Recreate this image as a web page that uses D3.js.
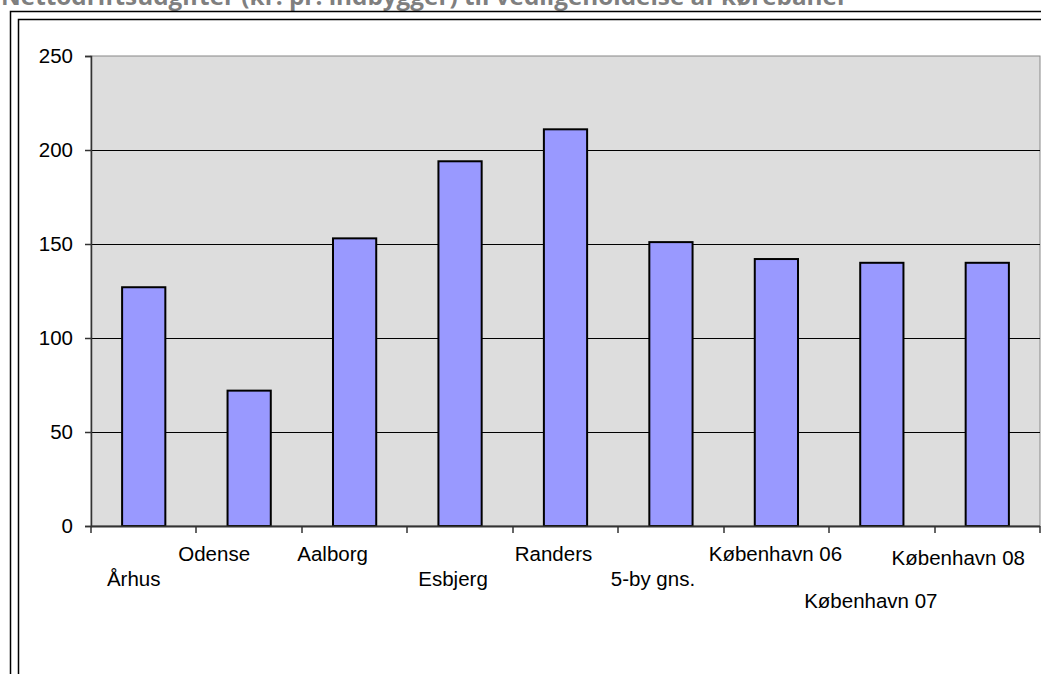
<!DOCTYPE html>
<html><head><meta charset="utf-8">
<script src="https://cdn.jsdelivr.net/npm/d3@7"></script>
<style>
html,body{margin:0;padding:0;background:#fff;overflow:hidden}
svg{display:block}
</style></head>
<body>
<svg id="c" width="1041" height="674"></svg>
<script>
const title = "Nettodriftsudgifter (kr. pr. indbygger) til vedligeholdelse af kørebaner";
const categories = ["Århus","Odense","Aalborg","Esbjerg","Randers","5-by gns.","København 06","København 07","København 08"];
const values = [127, 72, 153, 194, 211, 151, 142, 140, 140];
const yTicks = [0, 50, 100, 150, 200, 250];

// layout of staggered category labels (style, not data)
const labelDx = [-10, -35, -22, -7, -12, -18, -1, -11, -29];
const labelDy = [52, 27, 27, 52, 27, 52, 27, 74, 31];

const svg = d3.select("#c");
const m = {left: 91, right: 1040, top: 56, bottom: 526};

// title (clipped at the top edge, as in the reference)
svg.append("text").attr("x", 1).attr("y", 5)
  .attr("font-family", "Open Sans").attr("font-weight", "bold")
  .attr("font-size", 23).attr("fill", "#7f7f7f")
  .attr("textLength", 847).attr("lengthAdjust", "spacingAndGlyphs")
  .text(title);

// outer double frame
svg.append("rect").attr("x", 10.5).attr("y", 11.5).attr("width", 1100).attr("height", 800)
  .attr("fill", "none").attr("stroke", "#000").attr("stroke-width", 1.5);
svg.append("rect").attr("x", 18.5).attr("y", 19.5).attr("width", 1100).attr("height", 800)
  .attr("fill", "none").attr("stroke", "#000").attr("stroke-width", 1.5);

const x = d3.scaleBand().domain(categories).range([m.left, m.right]).padding(0);
const y = d3.scaleLinear().domain([0, 250]).range([m.bottom, m.top]);

// plot background
svg.append("rect").attr("x", m.left).attr("y", m.top)
  .attr("width", m.right - m.left).attr("height", m.bottom - m.top)
  .attr("fill", "#dddddd").attr("stroke", "#888").attr("stroke-width", 1);

// gridlines
svg.append("g").selectAll("line").data(yTicks.filter(d => d > 0 && d < 250)).join("line")
  .attr("x1", m.left).attr("x2", m.right)
  .attr("y1", d => Math.round(y(d)) + 0.5).attr("y2", d => Math.round(y(d)) + 0.5)
  .attr("stroke", "#000").attr("stroke-width", 1);

// bars
const bw = x.bandwidth();
svg.append("g").selectAll("rect").data(categories).join("rect")
  .attr("x", (d) => x(d) + bw * 0.295)
  .attr("width", bw * 0.41)
  .attr("y", (d, i) => y(values[i]))
  .attr("height", (d, i) => y(0) - y(values[i]))
  .attr("fill", "#9999ff").attr("stroke", "#000").attr("stroke-width", 2);

// y axis
const yAxis = d3.axisLeft(y).tickValues(yTicks).tickSize(6).tickPadding(12);
const gy = svg.append("g").attr("transform", `translate(${m.left},0)`).call(yAxis);
gy.select(".domain").attr("stroke", "#333").attr("stroke-width", 1.5);
gy.selectAll(".tick line").attr("stroke", "#333").attr("stroke-width", 1.5);
gy.selectAll("text").attr("font-family", "Liberation Sans, Arial, sans-serif")
  .attr("font-size", 20.5).attr("fill", "#000");

// x axis line and band-boundary ticks
const bounds = categories.map(c => x(c)).concat([m.right]);
svg.append("line").attr("x1", m.left).attr("x2", m.right)
  .attr("y1", m.bottom + 0.5).attr("y2", m.bottom + 0.5)
  .attr("stroke", "#333").attr("stroke-width", 2);
svg.append("g").selectAll("line").data(bounds).join("line")
  .attr("x1", d => Math.round(d)).attr("x2", d => Math.round(d))
  .attr("y1", m.bottom).attr("y2", m.bottom + 7)
  .attr("stroke", "#333").attr("stroke-width", 1.5);

// category labels
svg.append("g").selectAll("text").data(categories).join("text")
  .attr("x", (d, i) => x(d) + bw / 2 + labelDx[i])
  .attr("y", (d, i) => m.bottom + labelDy[i])
  .attr("text-anchor", "middle").attr("dominant-baseline", "central")
  .attr("font-family", "Liberation Sans, Arial, sans-serif")
  .attr("font-size", 20.5).attr("fill", "#000")
  .text(d => d);
</script>
</body></html>
